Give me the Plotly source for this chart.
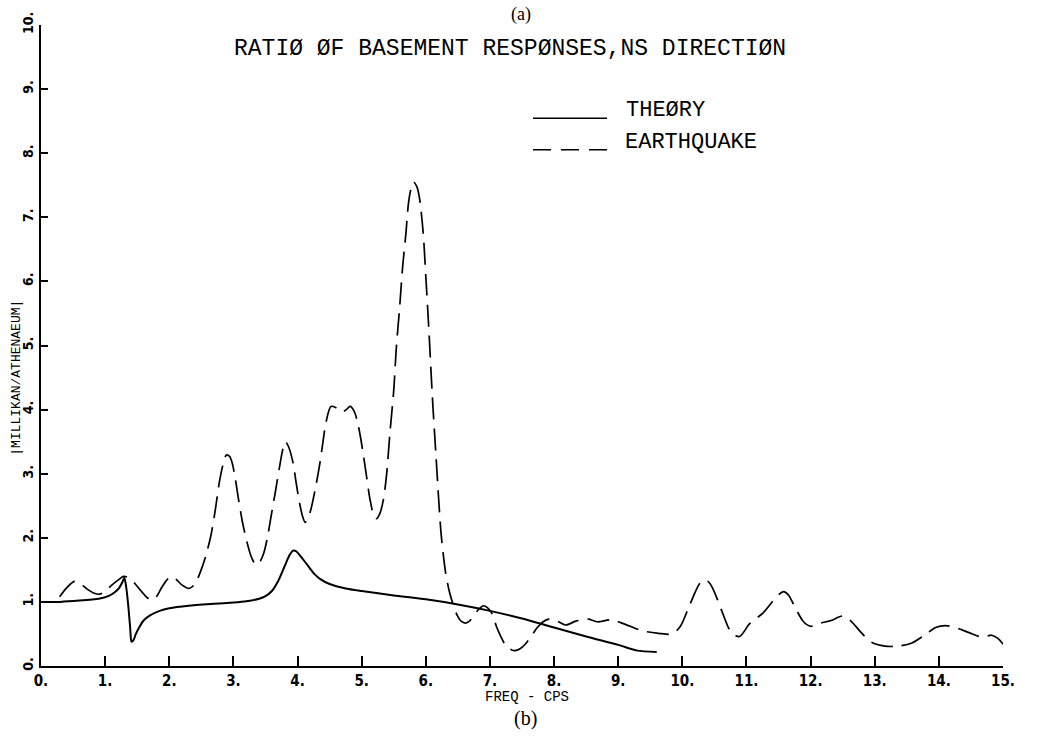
import plotly.graph_objects as go

# Ratio of basement responses, NS direction: |Millikan / Athenaeum| vs frequency (cps)
theory_freq = [0.0, 0.3, 0.6, 0.9, 1.05, 1.15, 1.22, 1.27, 1.30, 1.33, 1.36, 1.39, 1.41,
               1.44, 1.48, 1.53, 1.60, 1.70, 1.85, 2.0, 2.3, 2.7, 3.0, 3.2, 3.4, 3.5, 3.6,
               3.7, 3.8, 3.87, 3.93, 3.98, 4.05, 4.15, 4.25, 4.35, 4.5, 4.75, 5.0, 5.5,
               6.0, 6.5, 7.0, 7.5, 8.0, 8.5, 9.0, 9.3, 9.6]
theory_ratio = [1.0, 1.0, 1.02, 1.05, 1.09, 1.15, 1.22, 1.31, 1.38, 1.22, 0.95, 0.6, 0.38,
                0.40, 0.50, 0.60, 0.71, 0.79, 0.86, 0.90, 0.94, 0.97, 0.99, 1.01, 1.05, 1.09,
                1.17, 1.33, 1.56, 1.72, 1.80, 1.79, 1.71, 1.58, 1.45, 1.36, 1.28, 1.21, 1.17,
                1.10, 1.04, 0.96, 0.86, 0.74, 0.60, 0.46, 0.33, 0.24, 0.22]

quake_freq = [0.29, 0.40, 0.52, 0.62, 0.72, 0.82, 0.91, 1.00, 1.09, 1.20, 1.29, 1.38, 1.47,
              1.57, 1.66, 1.73, 1.80, 1.88, 1.96, 2.03, 2.11, 2.19, 2.31, 2.40, 2.49, 2.57,
              2.65, 2.72, 2.78, 2.84, 2.89, 2.94, 2.98, 3.03, 3.08, 3.14, 3.21, 3.28, 3.35,
              3.41, 3.47, 3.53, 3.59, 3.66, 3.72, 3.77, 3.81, 3.86, 3.93, 3.98, 4.03, 4.08,
              4.12, 4.16, 4.21, 4.28, 4.34, 4.39, 4.44, 4.52, 4.60, 4.69, 4.76, 4.82, 4.88,
              4.93, 4.98, 5.03, 5.08, 5.13, 5.18, 5.23, 5.28, 5.34, 5.39, 5.44, 5.50, 5.54,
              5.59, 5.64, 5.69, 5.73, 5.77, 5.81, 5.86, 5.90, 5.96, 6.00, 6.05, 6.10, 6.16,
              6.24, 6.31, 6.37, 6.42, 6.49, 6.55, 6.62, 6.68, 6.75, 6.82, 6.90, 6.96, 7.03,
              7.10, 7.16, 7.26, 7.34, 7.39, 7.47, 7.55, 7.64, 7.74, 7.83, 7.92, 8.05, 8.18,
              8.34, 8.53, 8.68, 8.89, 9.11, 9.37, 9.63, 9.84, 9.97, 10.11, 10.26, 10.33,
              10.40, 10.47, 10.55, 10.63, 10.76, 10.89, 11.05, 11.26, 11.47, 11.58, 11.66,
              11.74, 11.89, 12.0, 12.16, 12.32, 12.5, 12.63, 12.79, 12.95, 13.16, 13.37,
              13.58, 13.79, 13.95, 14.1, 14.26, 14.47, 14.68, 14.82, 14.92, 15.0]
quake_ratio = [1.08, 1.22, 1.32, 1.28, 1.20, 1.14, 1.12, 1.16, 1.25, 1.34, 1.40, 1.37, 1.28,
               1.16, 1.06, 1.03, 1.08, 1.22, 1.34, 1.40, 1.35, 1.27, 1.21, 1.28, 1.48, 1.72,
               2.04, 2.45, 2.86, 3.15, 3.29, 3.27, 3.17, 2.92, 2.60, 2.25, 1.94, 1.70, 1.58,
               1.62, 1.75, 2.00, 2.35, 2.75, 3.11, 3.38, 3.50, 3.42, 3.17, 2.85, 2.55, 2.33,
               2.24, 2.30, 2.45, 2.78, 3.11, 3.45, 3.78, 4.05, 4.03, 3.96, 4.00, 4.05, 3.98,
               3.83, 3.58, 3.27, 2.93, 2.60, 2.38, 2.30, 2.37, 2.60, 3.00, 3.63, 4.30, 4.96,
               5.57, 6.24, 6.75, 7.22, 7.45, 7.55, 7.48, 7.31, 6.75, 6.08, 5.21, 4.24, 3.26,
               2.05, 1.45, 1.15, 0.98, 0.79, 0.70, 0.67, 0.70, 0.79, 0.88, 0.94, 0.91, 0.82,
               0.62, 0.48, 0.30, 0.25, 0.24, 0.27, 0.34, 0.46, 0.60, 0.69, 0.73, 0.70, 0.64,
               0.70, 0.73, 0.69, 0.72, 0.65, 0.55, 0.51, 0.50, 0.62, 0.94, 1.27, 1.34,
               1.32, 1.22, 1.03, 0.82, 0.53, 0.46, 0.66, 0.83, 1.08, 1.16, 1.10,
               0.95, 0.69, 0.62, 0.67, 0.71, 0.78, 0.70, 0.52, 0.37, 0.31, 0.31,
               0.36, 0.49, 0.60, 0.63, 0.60, 0.52, 0.45, 0.48, 0.43, 0.34]

x_tick_vals = list(range(0, 16))
x_tick_text = ["0.", "1.", "2.", "3.", "4.", "5.", "6.", "7.", "8.", "9.", "10.", "11.",
               "12.", "13.", "14.", "15."]
y_tick_vals = list(range(0, 11))
y_tick_text = ["0.", "1.", "2.", "3.", "4.", "5.", "6.", "7.", "8.", "9.", "10."]

series_names = ["THEØRY", "EARTHQUAKE"]

W, H = 1037, 738
L, R, T, B = 41, 34, 19, 72
PW, PH = W - L - R, H - T - B

PLOT_FONT = "Liberation Mono, DejaVu Sans Mono, monospace"
TICK_FONT = "Liberation Sans Narrow, DejaVu Sans Condensed, Roboto Condensed, Liberation Sans, sans-serif"
SERIF = "Liberation Serif, DejaVu Serif, serif"


def px(x):
    return (x - L) / PW


def py(y):
    return (H - B - y) / PH


fig = go.Figure()
fig.add_trace(go.Scatter(
    x=theory_freq, y=theory_ratio, mode="lines", name=series_names[0],
    line=dict(color="black", width=2, shape="spline", smoothing=0.6),
    showlegend=False, hoverinfo="skip"))
fig.add_trace(go.Scatter(
    x=quake_freq, y=quake_ratio, mode="lines", name=series_names[1],
    line=dict(color="black", width=1.7, dash="22px,9px", shape="spline", smoothing=0.8),
    showlegend=False, hoverinfo="skip"))

# key lines drawn beside the series names
shapes = [
    dict(type="line", xref="paper", yref="paper", x0=px(533), x1=px(607),
         y0=py(113), y1=py(113), line=dict(color="black", width=1.5)),
    dict(type="line", xref="paper", yref="paper", x0=px(533), x1=px(607),
         y0=py(145), y1=py(145), line=dict(color="black", width=1.5, dash="18px,10px")),
]

annotations = [
    dict(text="(a)", x=px(521), y=py(8), xref="paper", yref="paper", showarrow=False,
         xanchor="center", yanchor="middle", font=dict(family=SERIF, size=18, color="black")),
    dict(text="RATIØ ØF BASEMENT RESPØNSES,NS DIRECTIØN", x=px(510), y=py(43),
         xref="paper", yref="paper", showarrow=False, xanchor="center", yanchor="middle",
         font=dict(family=PLOT_FONT, size=23, color="black")),
    dict(text=series_names[0], x=px(624), y=py(105), xref="paper", yref="paper",
         showarrow=False, xanchor="left", yanchor="middle",
         font=dict(family=PLOT_FONT, size=22, color="black")),
    dict(text=series_names[1], x=px(623), y=py(138), xref="paper", yref="paper",
         showarrow=False, xanchor="left", yanchor="middle",
         font=dict(family=PLOT_FONT, size=22, color="black")),
    dict(text="|MILLIKAN/ATHENAEUM|", x=px(17), y=py(375), xref="paper", yref="paper",
         showarrow=False, xanchor="center", yanchor="middle", textangle=-90,
         font=dict(family=PLOT_FONT, size=13, color="black")),
    dict(text="FREQ - CPS", x=px(527), y=py(697), xref="paper", yref="paper",
         showarrow=False, xanchor="center", yanchor="middle",
         font=dict(family=PLOT_FONT, size=14, color="black")),
    dict(text="(b)", x=px(525), y=py(719), xref="paper", yref="paper", showarrow=False,
         xanchor="center", yanchor="middle", font=dict(family=SERIF, size=20, color="black")),
]

fig.update_layout(
    width=W, height=H,
    margin=dict(l=L, r=R, t=T, b=B, pad=0),
    paper_bgcolor="white", plot_bgcolor="white",
    shapes=shapes, annotations=annotations,
    showlegend=False,
)
fig.update_xaxes(
    range=[0, 15], tickvals=x_tick_vals, ticktext=x_tick_text,
    ticks="inside", ticklen=10, tickwidth=1.5, tickcolor="black",
    showline=True, linecolor="black", linewidth=2, mirror=False,
    showgrid=False, zeroline=False,
    tickfont=dict(family=TICK_FONT, size=15, color="black", weight="bold"),
)
fig.update_yaxes(
    range=[0, 10], tickvals=y_tick_vals, ticktext=y_tick_text,
    ticks="inside", ticklen=7, tickwidth=1.5, tickcolor="black", tickangle=-90,
    showline=True, linecolor="black", linewidth=2, mirror=False,
    showgrid=False, zeroline=False,
    tickfont=dict(family=TICK_FONT, size=14, color="black", weight="bold"),
)

fig.write_html("out.html")
